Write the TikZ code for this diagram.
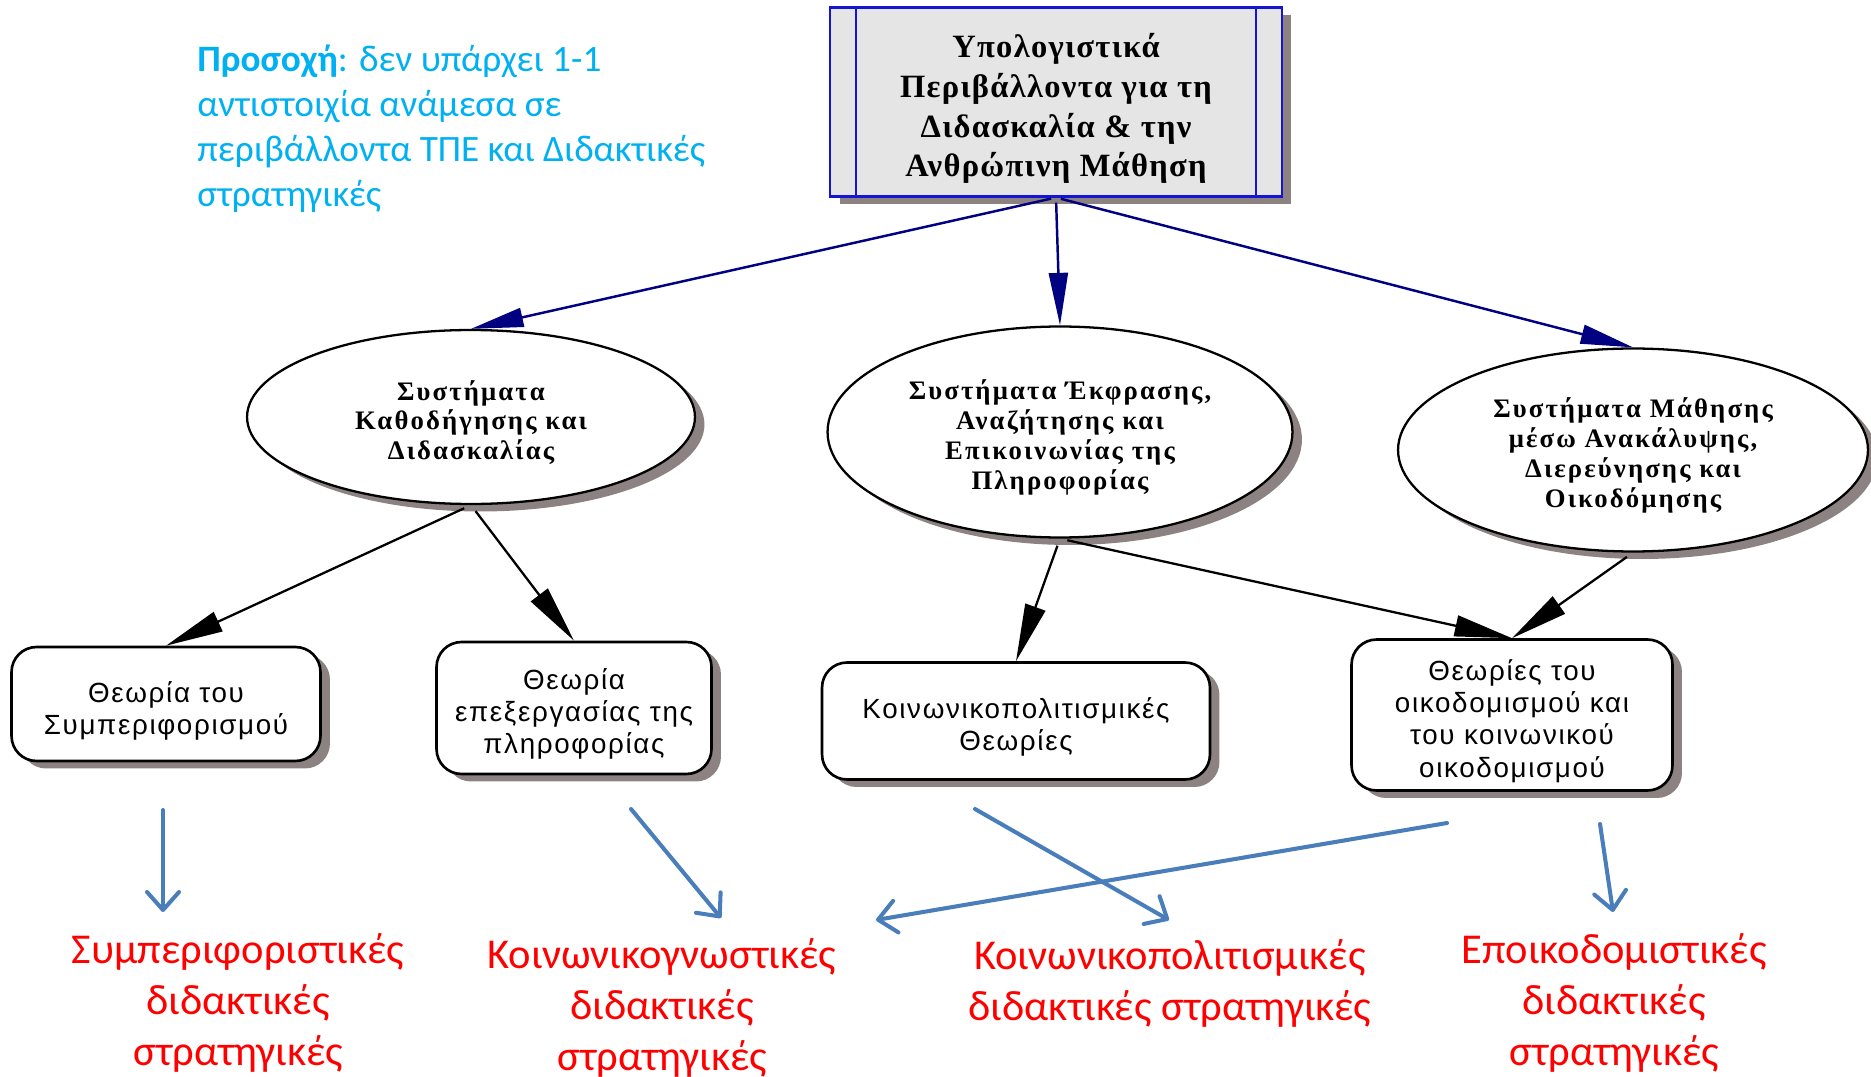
\documentclass[tikz,border=0pt]{standalone}
\usepackage{fontspec}
\setmainfont{Liberation Serif}
\newfontfamily\serifsp[LetterSpace=8]{Liberation Serif}
\newfontfamily\seriftop[LetterSpace=4]{Liberation Serif}
\newfontfamily\boxfont[LetterSpace=6]{Liberation Sans}
\newfontfamily\calib{Carlito}
\usepackage{tikz}
\usetikzlibrary{arrows.meta,positioning,calc,shapes.geometric,shadows}
\definecolor{boxblue}{RGB}{20,20,210}
\definecolor{topgray}{RGB}{229,229,229}
\definecolor{shadowc}{RGB}{140,130,130}
\definecolor{navyline}{RGB}{0,0,128}
\definecolor{stratblue}{RGB}{74,126,187}
\definecolor{stratred}{RGB}{255,0,0}
\definecolor{notecyan}{RGB}{0,176,240}

\begin{document}
\begin{tikzpicture}[x=0.02cm, y=-0.02cm,
  shade/.style={drop shadow={shadow xshift=0.19cm, shadow yshift=-0.15cm, fill=shadowc, opacity=1}},
  topbox/.style={rectangle, draw=boxblue, line width=1.2pt, fill=topgray, shade,
    minimum width=9.04cm, minimum height=3.78cm, inner sep=0pt,
    label={[yshift=-0.13cm, align=center, font=\seriftop\bfseries\fontsize{18.5}{22.7}\selectfont]center:{#1}}},
  sys/.style={ellipse, draw=black, line width=1.3pt, fill=white, shade, inner sep=0pt,
    label={[yshift=-0.11cm, align=center, font=\serifsp\bfseries\fontsize{15.2}{17}\selectfont]center:{#1}}},
  theory/.style={rectangle, rounded corners=0.5cm, draw=black, line width=1.5pt, fill=white, shade,
    inner sep=0pt, align=center, font=\boxfont\fontsize{15.8}{18.3}\selectfont},
  strat/.style={text=stratred, align=center, font=\calib\fontsize{24.2}{29}\selectfont}]
  \useasboundingbox (0,0) rectangle (1871,1077);

  % top of the hierarchy
  \node (top) [topbox={Υπολογιστικά\\Περιβάλλοντα για τη\\Διδασκαλία \& την\\Ανθρώπινη Μάθηση}] at (1056,102) {};
  \draw [boxblue, line width=1.2pt] ([xshift=0.54cm]top.north west) -- ([xshift=0.54cm]top.south west);
  \draw [boxblue, line width=1.2pt] ([xshift=-0.54cm]top.north east) -- ([xshift=-0.54cm]top.south east);

  \node (note) [anchor=north west, inner sep=0pt, align=left, text=notecyan,
    font=\calib\fontsize{21.2}{25.6}\selectfont] at (197,45)
    {{\bfseries Προσοχή}: δεν υπάρχει 1-1\\αντιστοιχία ανάμεσα σε\\περιβάλλοντα ΤΠΕ και Διδακτικές\\στρατηγικές};

  % systems
  \node (s1) [sys={Συστήματα\\Καθοδήγησης και\\Διδασκαλίας}, minimum width=8.96cm, minimum height=3.48cm] at (471,417) {};
  \node (s2) [sys={Συστήματα Έκφρασης,\\Αναζήτησης και\\Επικοινωνίας της\\Πληροφορίας}, minimum width=9.3cm, minimum height=4.22cm] at (1060,432) {};
  \node (s3) [sys={Συστήματα Μάθησης\\μέσω Ανακάλυψης,\\Διερεύνησης και\\Οικοδόμησης}, minimum width=9.4cm, minimum height=4.06cm] at (1633,450) {};

  % theories
  \node (th1) [theory, minimum width=6.18cm, minimum height=2.28cm] at (166,704) {\rule{0pt}{0.68cm}Θεωρία του\\Συμπεριφορισμού};
  \node (th2) [theory, minimum width=5.5cm, minimum height=2.64cm] at (574,708) {\rule{0pt}{0.66cm}Θεωρία\\επεξεργασίας της\\πληροφορίας};
  \node (th3) [theory, minimum width=7.76cm, minimum height=2.34cm] at (1016,721) {\rule{0pt}{0.66cm}Κοινωνικοπολιτισμικές\\Θεωρίες};
  \node (th4) [theory, minimum width=6.42cm, minimum height=3.02cm] at (1512,715) {\rule{0pt}{0.66cm}Θεωρίες του\\οικοδομισμού και\\του κοινωνικού\\οικοδομισμού};

  % teaching strategies
  \node (st1) [strat] at (238,1003) {Συμπεριφοριστικές\\διδακτικές\\στρατηγικές};
  \node (st2) [strat] at (662,1008) {Κοινωνικογνωστικές\\διδακτικές\\στρατηγικές};
  \node (st3) [strat] at (1170,983) {Κοινωνικοπολιτισμικές\\διδακτικές στρατηγικές};
  \node (st4) [strat] at (1614,1003) {Εποικοδομιστικές\\διδακτικές\\στρατηγικές};

  \coordinate (b1s) at (163,810);  \coordinate (b1e) at (163,912);
  \coordinate (b2s) at (631,809);  \coordinate (b2e) at (721,918);
  \coordinate (b3s) at (975,809);  \coordinate (b3e) at (1169,920);
  \coordinate (b4s) at (1447,823); \coordinate (b4e) at (876,920);
  \coordinate (b5s) at (1600,824); \coordinate (b5e) at (1613,912);

  \path [-{Triangle[length=1.05cm,width=0.38cm]}] [navyline, line width=1.4pt, shorten <=1mm]
  (top.south) edge (s1.north)
  (top.south) edge (s2.north)
  (top.south) edge (s3.north);

  \path [-{Triangle[length=1.15cm,width=0.42cm]}] [black, line width=1.3pt, shorten <=1.5mm]
  (s1.south) edge (th1.north)
  (s1.south) edge (th2.north)
  (s2.south) edge (th3.north)
  (s2.south) edge (th4.north)
  (s3.south) edge (th4.north);

  \path [-{Straight Barb[length=3.6mm,width=6.4mm,round]}] [stratblue, line width=2.3pt, line cap=round]
  (b1s) edge (b1e)
  (b2s) edge (b2e)
  (b3s) edge (b3e)
  (b4s) edge (b4e)
  (b5s) edge (b5e);
\end{tikzpicture}
\end{document}
